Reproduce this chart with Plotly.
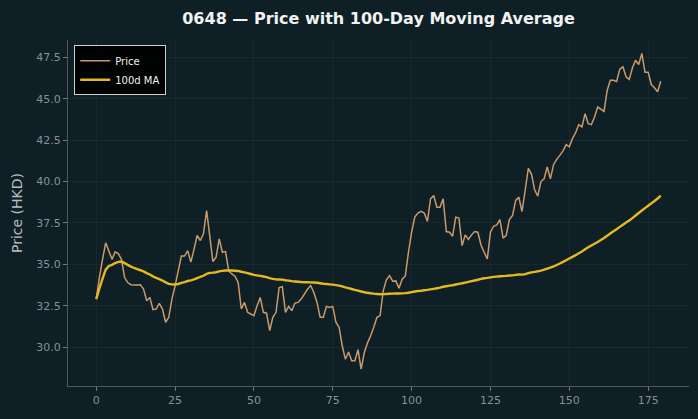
import numpy as np
import pandas as pd
import plotly.graph_objects as go

days = list(range(180))
price = [
    32.9, 34.2, 35.3, 36.3, 35.8, 35.3, 35.75, 35.65, 35.3, 34.2,
    33.9, 33.77, 33.75, 33.75, 33.77, 33.5, 32.8, 33.0, 32.26, 32.3,
    32.64, 32.3, 31.5, 31.8, 32.9, 33.7, 34.6, 35.5, 35.5, 35.83,
    35.13, 35.9, 36.74, 36.44, 36.84, 38.25, 36.7, 35.16, 35.43, 36.54,
    35.73, 35.77, 34.6, 34.42, 34.28, 33.9, 32.3, 32.7, 32.1, 32.0,
    31.9, 32.5, 33.0, 32.1, 32.05, 31.0, 31.8, 32.1, 33.6, 33.65,
    32.1, 32.46, 32.2, 32.66, 32.7, 32.9, 33.2, 33.5, 33.72, 33.3,
    32.7, 31.8, 31.8, 32.46, 32.4, 32.46, 31.5, 31.2, 30.08, 29.27,
    29.7, 29.17, 29.18, 29.84, 28.67, 29.68, 30.24, 30.69, 31.2, 31.8,
    31.9, 33.4, 34.07, 34.32, 33.98, 34.0, 33.55, 34.1, 34.3, 35.73,
    36.94, 37.85, 38.1, 38.2, 38.1, 37.6, 38.96, 39.16, 38.45, 38.45,
    38.96, 36.98, 36.94, 36.7, 37.85, 37.8, 36.13, 36.78, 36.5, 36.78,
    36.98, 36.94, 36.17, 35.73, 35.33, 36.94, 37.3, 37.38, 37.7, 36.58,
    36.75, 37.7, 37.95, 38.86, 39.06, 38.19, 39.46, 40.8, 40.45, 39.5,
    39.12, 40.0, 40.16, 40.88, 40.16, 41.02, 41.34, 41.58, 41.85, 42.23,
    42.1, 42.6, 42.95, 43.44, 43.3, 44.1, 43.5, 43.44, 43.9, 44.5,
    44.37, 44.24, 45.5, 46.12, 46.12, 46.05, 46.79, 46.93, 46.33, 46.17,
    46.86, 47.33, 47.07, 47.74, 46.6, 46.6, 45.86, 45.66, 45.42, 46.06,
]
ma_window = 100
ma100 = pd.Series(price).rolling(ma_window, min_periods=1).mean().tolist()

y_ticks = [30.0, 32.5, 35.0, 37.5, 40.0, 42.5, 45.0, 47.5]
x_ticks = [0, 25, 50, 75, 100, 125, 150, 175]

BG = "#0f1f26"
GRID = "rgba(255,255,255,0.045)"
TICK = "#8a9094"
FONT = "DejaVu Sans, Liberation Sans, sans-serif"

fig = go.Figure()
fig.add_trace(go.Scatter(x=days, y=price, mode="lines", name="Price",
                         line=dict(color="#c99a6b", width=1.5, simplify=False)))
fig.add_trace(go.Scatter(x=days, y=ma100, mode="lines", name="100d MA",
                         line=dict(color="#e5b921", width=2.4, simplify=False)))

fig.update_layout(
    width=698, height=419,
    paper_bgcolor=BG, plot_bgcolor=BG,
    margin=dict(l=68, r=9, t=40, b=33),
    font=dict(family=FONT, color=TICK, size=11),
    title=dict(text="<b>0648 — Price with 100-Day Moving Average</b>",
               x=378.5 / 698, xanchor="center", y=0.957, yanchor="middle",
               font=dict(size=16, color="#f2f2f2", family=FONT)),
    showlegend=True,
    legend=dict(x=0.01, y=0.985, xanchor="left", yanchor="top",
                bgcolor="rgba(0,0,0,0.9)", bordercolor="#cfcfcf", borderwidth=1,
                font=dict(size=10, color="#f0f0f0", family=FONT),
                tracegroupgap=0, itemwidth=30),
)
fig.update_xaxes(range=[-8.95, 187.95], tickvals=x_ticks, ticks="outside", ticklen=4,
                 tickcolor="#777", showline=True, linecolor="#555", linewidth=1,
                 showgrid=True, gridcolor=GRID, zeroline=False,
                 tickfont=dict(size=11, color=TICK))
fig.update_yaxes(range=[27.65, 48.55], tickvals=y_ticks, tickformat=".1f", ticks="outside",
                 ticklen=4, tickcolor="#777", showline=True, linecolor="#555", linewidth=1,
                 showgrid=True, gridcolor=GRID, zeroline=False,
                 tickfont=dict(size=11, color=TICK),
                 title=dict(text="Price (HKD)", font=dict(size=14, color="#b8bcbe"), standoff=10))

fig.write_html("out.html")
